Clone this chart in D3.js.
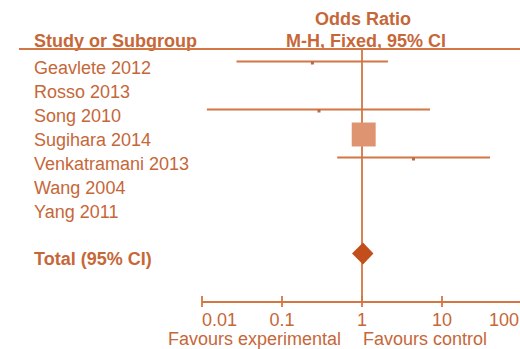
<!DOCTYPE html>
<html>
<head>
<meta charset="utf-8">
<script src="https://cdn.jsdelivr.net/npm/d3@7"></script>
<style>
  html, body { margin: 0; padding: 0; background: #ffffff; }
  svg { display: block; }
  text { font-family: "Liberation Sans", Arial, Helvetica, sans-serif; }
</style>
</head>
<body>
<svg id="chart" width="520" height="349"></svg>
<script>
// Forest plot: odds ratios per study (M-H, fixed effect, 95% CI)
const studies = ["Geavlete 2012", "Rosso 2013", "Song 2010", "Sugihara 2014",
                 "Venkatramani 2013", "Wang 2004", "Yang 2011"];
const oddsRatio = [0.24, null, 0.29, 1.05, 4.40, null, null];
const ciLower   = [0.027, null, 0.0115, 0.78, 0.49, null, null];
const ciUpper   = [2.11, null, 7.08, 1.40, 39.8, null, null];
const weights   = [1.5, 0, 1.4, 95.6, 1.5, 0, 0];   // % weight
const totalLabel = "Total (95% CI)";
const total = { or: 1.03, lo: 0.75, hi: 1.39 };
const tickValues = [0.01, 0.1, 1, 10, 100];
const tickLabels = ["0.01", "0.1", "1", "10", "100"];
const favourLeft = "Favours experimental";
const favourRight = "Favours control";

const textColor = "#c66739";
const lineColor = "#d27744";
const squareColor = "#de9470";
const diamondColor = "#c24f1b";
const fontSize = 18;

const svg = d3.select("#chart");

// log-scaled odds-ratio axis
const x = d3.scaleLog().domain([0.01, 100]).range([202, 522]);
// row baselines; the total row sits after a blank row
const rowY = d3.scaleLinear().domain([0, 1]).range([74, 98]);
const markOffset = -11.5;
const size = d3.scaleSqrt().domain([0, 100]).range([0, 24.5]);

const axisY = 302;
const headerY = 49;

// headers
svg.append("text").attr("x", 363).attr("y", 25).attr("text-anchor", "middle")
  .attr("font-weight", "bold").attr("font-size", fontSize).attr("fill", textColor)
  .text("Odds Ratio");
svg.append("text").attr("x", 366).attr("y", 47).attr("text-anchor", "middle")
  .attr("font-weight", "bold").attr("font-size", fontSize).attr("fill", textColor)
  .text("M-H, Fixed, 95% CI");
svg.append("text").attr("x", 34).attr("y", 47)
  .attr("font-weight", "bold").attr("font-size", fontSize).attr("fill", textColor)
  .text("Study or Subgroup");
svg.append("line").attr("x1", 19).attr("x2", 520).attr("y1", headerY).attr("y2", headerY)
  .attr("stroke", lineColor).attr("stroke-width", 1.8);

// line of no effect
svg.append("line").attr("x1", x(1)).attr("x2", x(1)).attr("y1", headerY).attr("y2", axisY)
  .attr("stroke", lineColor).attr("stroke-width", 1.8);

// study labels
svg.append("g").selectAll("text").data(studies).join("text")
  .attr("x", 34).attr("y", (d, i) => rowY(i))
  .attr("font-size", fontSize).attr("fill", textColor)
  .text(d => d);

// confidence intervals and point estimates
const rows = studies.map((s, i) => ({ i, or: oddsRatio[i], lo: ciLower[i], hi: ciUpper[i], w: weights[i] }))
  .filter(d => d.or !== null);

svg.append("g").selectAll("line").data(rows).join("line")
  .attr("x1", d => x(d.lo)).attr("x2", d => x(d.hi))
  .attr("y1", d => rowY(d.i) + markOffset - 1).attr("y2", d => rowY(d.i) + markOffset - 1)
  .attr("stroke", lineColor).attr("stroke-width", 1.8);

svg.append("g").selectAll("rect").data(rows).join("rect")
  .attr("x", d => x(d.or) - Math.max(size(d.w), 3) / 2)
  .attr("y", d => rowY(d.i) + markOffset - Math.max(size(d.w), 3) / 2 + (size(d.w) < 5 ? 0.5 : 0))
  .attr("width", d => Math.max(size(d.w), 3))
  .attr("height", d => Math.max(size(d.w), 3))
  .attr("fill", d => size(d.w) < 5 ? "#b86a48" : squareColor);

// pooled estimate
svg.append("text").attr("x", 34).attr("y", rowY(8) - 1)
  .attr("font-weight", "bold").attr("font-size", fontSize).attr("fill", textColor)
  .text(totalLabel);
const ty = rowY(8) + markOffset - 1;
svg.append("path")
  .attr("d", d3.line()([[x(total.lo), ty], [x(total.or), ty - 11], [x(total.hi), ty], [x(total.or), ty + 11]]) + "Z")
  .attr("fill", diamondColor);

// axis
const axis = svg.append("g").attr("transform", `translate(0,${axisY})`);
axis.append("line").attr("x1", x(0.01)).attr("x2", x(100)).attr("y1", 0).attr("y2", 0)
  .attr("stroke", lineColor).attr("stroke-width", 1.8);
axis.selectAll("line.tick").data(tickValues).join("line").attr("class", "tick")
  .attr("x1", d => x(d)).attr("x2", d => x(d)).attr("y1", -6).attr("y2", 5)
  .attr("stroke", lineColor).attr("stroke-width", 1.8);
axis.selectAll("text").data(tickValues).join("text")
  .attr("x", (d, i) => i === tickValues.length - 1 ? 519 : x(d)).attr("y", 24)
  .attr("text-anchor", (d, i) => i === 0 ? "start" : (i === tickValues.length - 1 ? "end" : "middle"))
  .attr("font-size", fontSize).attr("fill", textColor)
  .text((d, i) => tickLabels[i]);

svg.append("text").attr("x", x(1) - 21).attr("y", 345).attr("text-anchor", "end")
  .attr("font-size", fontSize).attr("fill", textColor).text(favourLeft);
svg.append("text").attr("x", x(1) + 1).attr("y", 345)
  .attr("font-size", fontSize).attr("fill", textColor).text(favourRight);
</script>
</body>
</html>
